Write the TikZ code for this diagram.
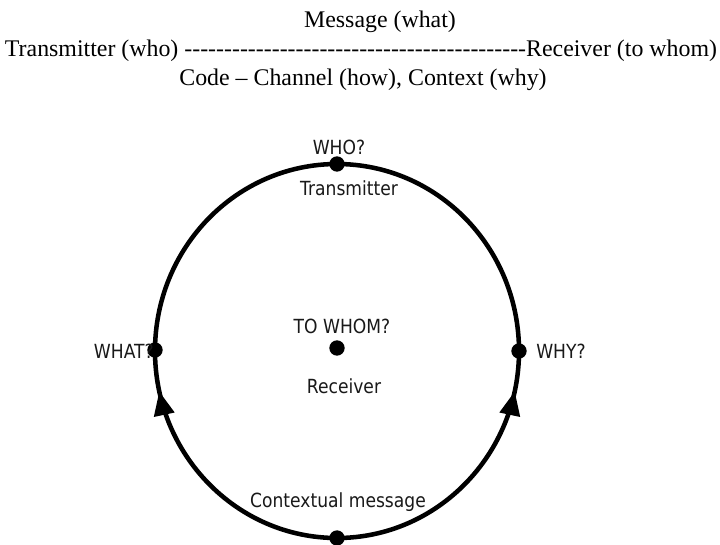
\documentclass[tikz,border=0pt]{standalone}
\usepackage{fontspec}
\setmainfont{Liberation Serif}[Ligatures=TeXOff]
\newfontfamily\lblfont{DejaVu Sans}[FakeStretch=0.88]
\usetikzlibrary{decorations.markings,arrows.meta}

\begin{document}
\begin{tikzpicture}[x=0.75pt,y=-0.75pt,
  toptext/.style={anchor=base,inner sep=0pt,font=\fontsize{17.9}{21}\selectfont},
  lbl/.style={anchor=base,inner sep=0pt,text=black!90,font=\lblfont\fontsize{14.6}{17}\selectfont},
  dot/.style={circle,fill=black,inner sep=0pt,minimum size=11.5pt},
  ring/.style={line width=3.4pt},
  upmark/.style={postaction={decorate},decoration={markings,
      mark=at position .86 with {\arrow{Triangle[length=18pt,width=15pt]}}}}]
\useasboundingbox (0,0) rectangle (720,544);

\node[toptext] (msg)  at (380,27) {Message (what)};
\node[toptext] (line) at (361,56) {Transmitter (who) -------------------------------------------Receiver (to whom)};
\node[toptext] (code) at (363,85) {Code – Channel (how), Context (why)};

\coordinate (c) at (337,351);
\draw[ring] (c) ++(-182,0) arc[start angle=180,end angle=360,x radius=182,y radius=187];
\draw[ring,upmark] (c) ++(0,187) arc[start angle=90,end angle=180,x radius=182,y radius=187];
\draw[ring,upmark] (c) ++(0,187) arc[start angle=90,end angle=0,x radius=182,y radius=187];

\node[dot] (top)    at (337,164) {};
\node[dot] (left)   at (155,350) {};
\node[dot] (right)  at (519,351) {};
\node[dot] (bottom) at (337,538) {};
\node[dot] (mid)    at (337,348) {};

\node[lbl] (whoq)   at (339,154) {WHO?};
\node[lbl] (trans)  at (349,195) {Transmitter};
\node[lbl] (towhom) at (342,333) {TO WHOM?};
\node[lbl] (recv)   at (344,393) {Receiver};
\node[lbl,anchor=base east] (what) at (154,358) {WHAT?};
\node[lbl,anchor=base west] (why)  at (536,358) {WHY?};
\node[lbl] (ctx)    at (338,507) {Contextual message};
\end{tikzpicture}
\end{document}
